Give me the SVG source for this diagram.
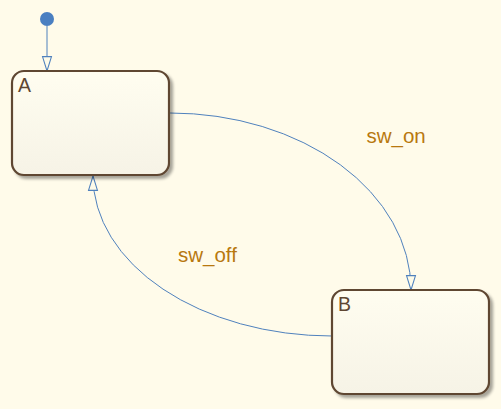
<svg xmlns="http://www.w3.org/2000/svg" width="501" height="409" viewBox="0 0 501 409">
<defs>
<style>
.state{fill:url(#g);stroke:#5e4631;stroke-width:2.2;filter:url(#sh)}
.name{font-family:"Liberation Sans",Arial,sans-serif;font-size:19.5px;fill:#5e4631}
.lbl{font-family:"Liberation Sans",Arial,sans-serif;font-size:20.5px;fill:#b8780f}
.tr{fill:none;stroke:#4f81bd;stroke-width:1;marker-end:url(#ah)}
</style>
<linearGradient id="g" x1="0" y1="0" x2="0" y2="1">
<stop offset="0" stop-color="#fffdf0"/>
<stop offset="1" stop-color="#f6f3e6"/>
</linearGradient>
<filter id="sh" x="-10%" y="-10%" width="130%" height="130%">
<feGaussianBlur in="SourceAlpha" stdDeviation="1.5"/>
<feOffset dx="3" dy="3" result="b"/>
<feComponentTransfer><feFuncA type="linear" slope="0.35"/></feComponentTransfer>
<feMerge><feMergeNode/><feMergeNode in="SourceGraphic"/></feMerge>
</filter>
<marker id="ah" markerUnits="userSpaceOnUse" markerWidth="16" markerHeight="12" refX="14" refY="5" orient="auto" viewBox="0 0 15 10">
<path d="M0.5,0.8 L14,5 L0.5,9.2 Z" fill="#fefbe9" stroke="#4f81bd" stroke-width="1"/>
</marker>
</defs>
<rect width="501" height="409" fill="#fffbea"/>
<g id="connectors">
<circle cx="47" cy="19" r="7" fill="#4a7fc1"/>
<path class="tr" d="M47,26 L47,71"/>
<path class="tr" d="M170,113 A241,177 0 0 1 411,290"/>
<path class="tr" d="M332,336 A239,160 0 0 1 93,176"/>
</g>
<g id="A">
<rect class="state" x="12" y="71" width="157" height="104" rx="12"/>
<text class="name" x="18" y="92">A</text>
</g>
<g id="B">
<rect class="state" x="332" y="290" width="157" height="104" rx="12"/>
<text class="name" x="338" y="311">B</text>
</g>
<g id="labels">
<text class="lbl" x="366.5" y="143">sw_on</text>
<text class="lbl" x="178" y="262">sw_off</text>
</g>
</svg>
